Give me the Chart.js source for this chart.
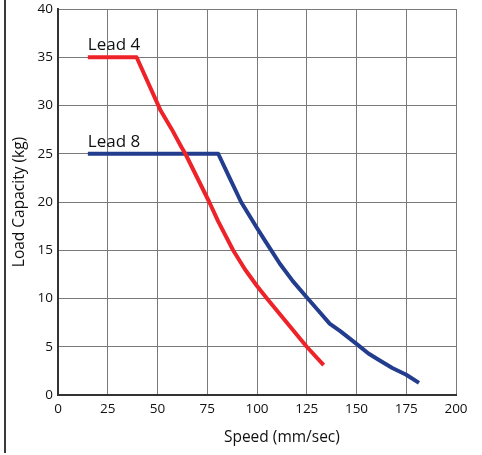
<!DOCTYPE html>
<html>
<head>
<meta charset="utf-8">
<script src="https://cdn.jsdelivr.net/npm/chart.js@4.4.1/dist/chart.umd.min.js"></script>
<style>
html,body{margin:0;padding:0;background:#fff;}
#wrap{position:relative;width:482px;height:455px;}
#frame{position:absolute;left:4px;top:0;width:2px;height:453px;background:#3a3a3a;}
canvas{display:block;}
</style>
</head>
<body>
<div id="wrap"><canvas id="c" width="482" height="455"></canvas><div id="frame"></div></div>
<script>
// Data
const seriesNames = ["Lead 4", "Lead 8"];
const lead4X = [15, 39.5, 50, 51.5, 57, 62, 64, 76, 80.5, 88, 94, 100, 105, 125, 133.5];
const lead4Y = [35, 35, 30.2, 29.5, 27.6, 25.7, 25, 20, 18, 15, 13, 11.3, 10, 5, 3.1];
const lead8X = [15, 80.5, 86, 92, 100, 104, 111.5, 118, 125.5, 131, 136.5, 142, 150, 156, 161.5, 168, 175, 181.4];
const lead8Y = [25, 25, 22.6, 20, 17.3, 16, 13.6, 11.8, 10, 8.7, 7.4, 6.6, 5.3, 4.3, 3.6, 2.8, 2.1, 1.25];
const xTicks = [0, 25, 50, 75, 100, 125, 150, 175, 200];
const yTicks = [0, 5, 10, 15, 20, 25, 30, 35, 40];
const xTitle = "Speed (mm/sec)";
const yTitle = "Load Capacity (kg)";

const toPts = (xs, ys) => xs.map((x, i) => ({x: x, y: ys[i]}));
const FONT = "'Open Sans', 'DejaVu Sans', sans-serif";

const labelPlugin = {
  id: 'leadLabels',
  afterDatasetsDraw(chart) {
    const ctx = chart.ctx;
    const xs = chart.scales.x, ys = chart.scales.y;
    ctx.save();
    ctx.font = "17px " + FONT;
    ctx.fillStyle = "#111";
    ctx.textAlign = "left";
    ctx.textBaseline = "alphabetic";
    chart.data.datasets.forEach(ds => {
      const p = ds.data[0];
      ctx.fillText(ds.label, xs.getPixelForValue(p.x), ys.getPixelForValue(p.y) - 7);
    });
    // x-axis title
    ctx.font = "15.5px " + FONT;
    ctx.textAlign = "center";
    ctx.textBaseline = "middle";
    ctx.fillText(xTitle, xs.getPixelForValue(112.5), 438);
    ctx.restore();
  }
};

new Chart(document.getElementById('c'), {
  type: 'line',
  data: {
    datasets: [
      {label: seriesNames[0], data: toPts(lead4X, lead4Y), borderColor: '#ee2229', borderWidth: 4, pointRadius: 0, tension: 0, fill: false, borderJoinStyle: 'round'},
      {label: seriesNames[1], data: toPts(lead8X, lead8Y), borderColor: '#233d8e', borderWidth: 4, pointRadius: 0, tension: 0, fill: false, borderJoinStyle: 'round'}
    ]
  },
  options: {
    responsive: false,
    animation: false,
    devicePixelRatio: 1,
    layout: {padding: {left: 0, right: 26, top: 9, bottom: 0}},
    plugins: {legend: {display: false}, tooltip: {enabled: false}},
    scales: {
      x: {
        type: 'linear', min: 0, max: 200,
        afterBuildTicks: s => { s.ticks = xTicks.map(v => ({value: v})); },
        afterFit: s => { s.height = 60; s.paddingLeft = 0; s.paddingRight = 0; },
        grid: {color: '#7a7a7a', lineWidth: 1, drawTicks: false},
        border: {color: '#333', width: 2},
        ticks: {font: {family: FONT, size: 13.5}, color: '#111', padding: 6, maxRotation: 0}
      },
      y: {
        type: 'linear', min: 0, max: 40,
        afterBuildTicks: s => { s.ticks = yTicks.map(v => ({value: v})); },
        afterFit: s => { s.width = 58; s.paddingTop = 0; s.paddingBottom = 0; },
        grid: {color: '#7a7a7a', lineWidth: 1, drawTicks: false},
        border: {color: '#333', width: 2},
        ticks: {font: {family: FONT, size: 13.5}, color: '#111', padding: 5},
        title: {display: true, text: yTitle, font: {family: FONT, size: 15.5}, color: '#111', padding: {top: 10, bottom: 0}}
      }
    }
  },
  plugins: [labelPlugin]
});
</script>
</body>
</html>
